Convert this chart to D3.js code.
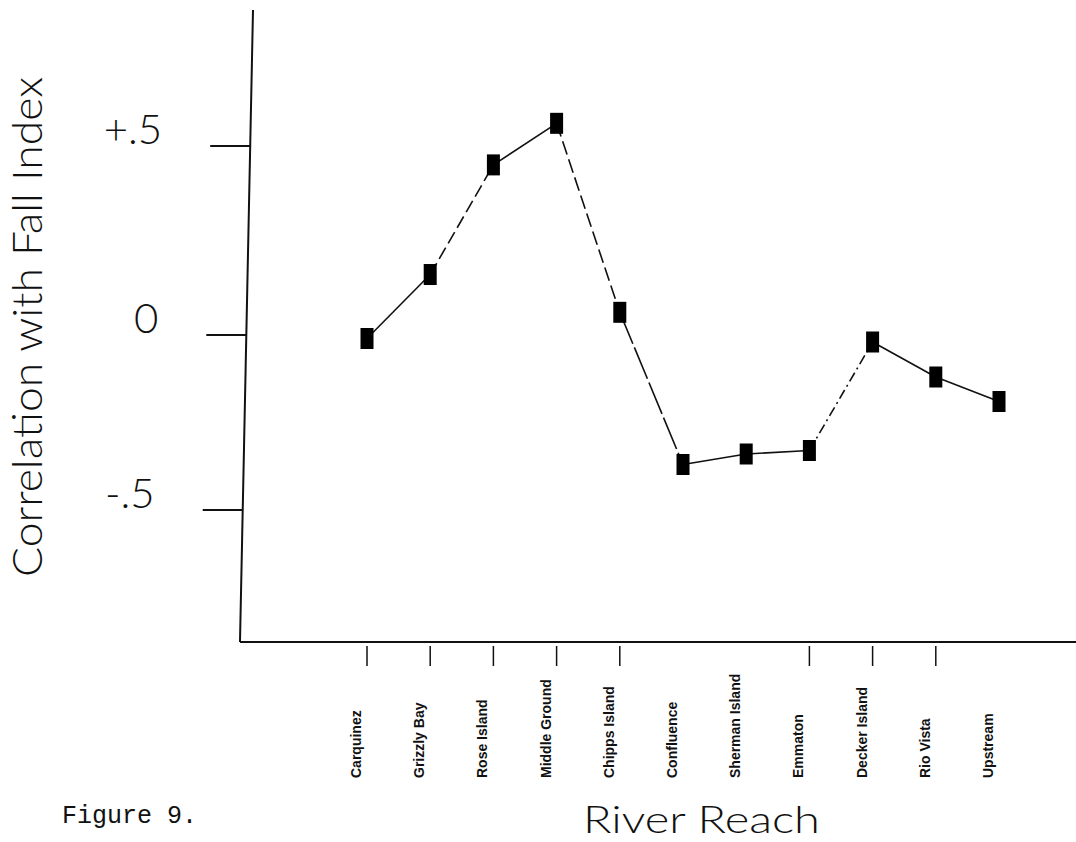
<!DOCTYPE html>
<html>
<head>
<meta charset="utf-8">
<script src="https://cdn.jsdelivr.net/npm/d3@7"></script>
<style>
  body { margin: 0; background: #fff; }
</style>
</head>
<body>
<div id="chartDiv"></div>
<script>
// values
const reaches = ["Carquinez", "Grizzly Bay", "Rose Island", "Middle Ground", "Chipps Island",
  "Confluence", "Sherman Island", "Emmaton", "Decker Island", "Rio Vista", "Upstream"];
const correlations = [-0.01, 0.16, 0.45, 0.56, 0.06, -0.37, -0.34, -0.33, -0.02, -0.12, -0.19];
// only some reaches have a tick mark under the axis
const tickedReaches = ["Carquinez", "Grizzly Bay", "Rose Island", "Middle Ground", "Chipps Island",
  "Emmaton", "Decker Island", "Rio Vista"];
const yTicks = [0.5, 0, -0.5];
const yTickLabels = ["+.5", "0", "-.5"];

// line style of each segment between neighbouring reaches
const segmentDash = [null, "13,5", null, "14,5", "34,4", null, null, "10,4,2,4", null, null];

const width = 1076, height = 842;
const plotTop = 10, plotBottom = 642, plotRight = 1076;
const thinFont = "Lato, 'DejaVu Sans', sans-serif";

const x = d3.scalePoint(reaches, [367, 999]);
// hand drawn axis: the tick spacing is not quite even
const y = d3.scaleLinear([-0.5, 0, 0.5], [510, 335, 146]);

// the y axis leans a little to the left at the bottom
const axisX = py => 253 - 13 * (py - plotTop) / (plotBottom - plotTop);

const svg = d3.create("svg")
    .attr("width", width)
    .attr("height", height)
    .attr("viewBox", [0, 0, width, height])
    .style("background", "#fff");

// axis lines
svg.append("line")
    .attr("x1", axisX(plotTop)).attr("y1", plotTop)
    .attr("x2", axisX(plotBottom)).attr("y2", plotBottom)
    .attr("stroke", "#111").attr("stroke-width", 2);

svg.append("line")
    .attr("x1", axisX(plotBottom)).attr("y1", plotBottom)
    .attr("x2", plotRight).attr("y2", plotBottom)
    .attr("stroke", "#111").attr("stroke-width", 2.2);

// y axis ticks and labels
const yAxis = svg.append("g")
    .call(d3.axisLeft(y)
        .tickValues(yTicks)
        .tickSize(40)
        .tickPadding(48)
        .tickFormat((d, i) => yTickLabels[i]));

yAxis.select(".domain").remove();
yAxis.selectAll(".tick")
    .attr("transform", d => `translate(${axisX(y(d))},${y(d)})`);
yAxis.selectAll(".tick line")
    .attr("stroke", "#111")
    .attr("stroke-width", 2);
yAxis.selectAll(".tick text")
    .attr("y", -15)
    .attr("fill", "#111")
    .style("font-family", thinFont)
    .style("font-weight", 300)
    .style("font-size", "42px");

// x tick marks (below the axis, not touching it)
svg.append("g")
    .selectAll("line")
    .data(tickedReaches)
    .join("line")
    .attr("x1", d => x(d)).attr("x2", d => x(d))
    .attr("y1", plotBottom + 4).attr("y2", plotBottom + 24)
    .attr("stroke", "#111").attr("stroke-width", 1.5);

// x category labels, rotated
svg.append("g")
    .selectAll("text")
    .data(reaches)
    .join("text")
    .attr("transform", d => `translate(${x(d) - 11},778) rotate(-90)`)
    .attr("dy", "0.35em")
    .attr("text-anchor", "start")
    .attr("fill", "#111")
    .style("font-family", "'Liberation Sans', Arial, sans-serif")
    .style("font-weight", "bold")
    .style("font-size", "14px")
    .text(d => d);

// connecting segments
const points = d3.zip(reaches, correlations);
svg.append("g")
    .attr("stroke", "#111")
    .attr("stroke-width", 1.6)
    .selectAll("line")
    .data(d3.pairs(points))
    .join("line")
    .attr("x1", ([a]) => x(a[0])).attr("y1", ([a]) => y(a[1]))
    .attr("x2", ([, b]) => x(b[0])).attr("y2", ([, b]) => y(b[1]))
    .attr("stroke-dasharray", (d, i) => segmentDash[i]);

// square markers
svg.append("g")
    .selectAll("rect")
    .data(points)
    .join("rect")
    .attr("x", d => x(d[0]) - 6.5)
    .attr("y", d => y(d[1]) - 10.5)
    .attr("width", 13)
    .attr("height", 21)
    .attr("fill", "#000");

// titles
svg.append("text")
    .attr("transform", "translate(42,327) rotate(-90)")
    .attr("text-anchor", "middle")
    .attr("fill", "#111")
    .attr("textLength", 500)
    .attr("lengthAdjust", "spacingAndGlyphs")
    .style("font-family", thinFont)
    .style("font-weight", 300)
    .style("font-size", "41px")
    .text("Correlation with Fall Index");

svg.append("text")
    .attr("x", 583)
    .attr("y", 833)
    .attr("fill", "#111")
    .attr("textLength", 237)
    .attr("lengthAdjust", "spacingAndGlyphs")
    .style("font-family", thinFont)
    .style("font-weight", 300)
    .style("font-size", "38px")
    .text("River Reach");

svg.append("text")
    .attr("x", 62)
    .attr("y", 823)
    .attr("fill", "#111")
    .style("font-family", "'Liberation Mono', 'Courier New', monospace")
    .style("font-size", "25px")
    .text("Figure 9.");

document.getElementById("chartDiv").appendChild(svg.node());
</script>
</body>
</html>
